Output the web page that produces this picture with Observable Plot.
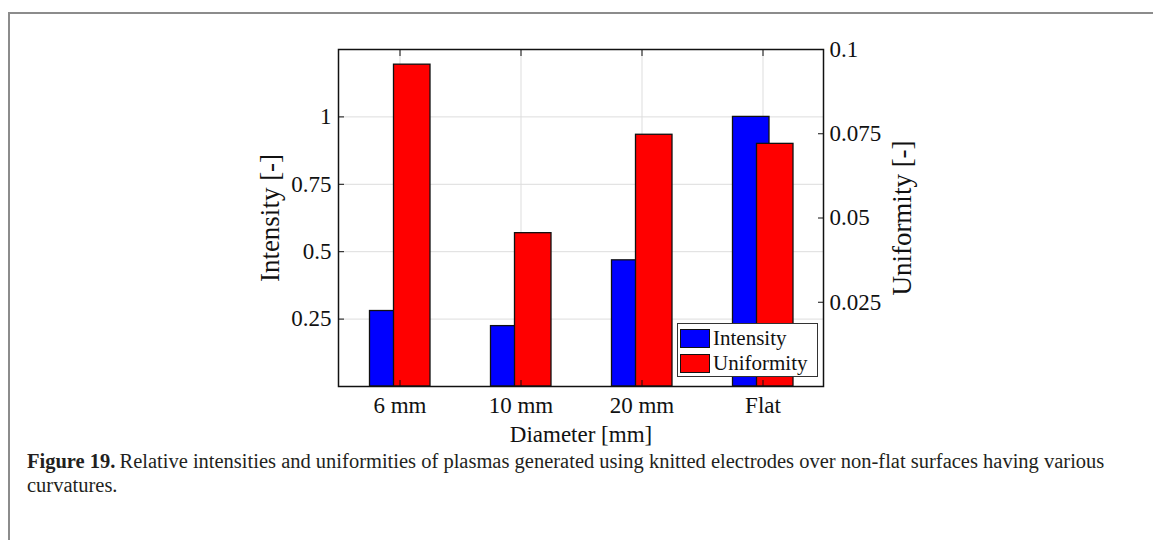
<!DOCTYPE html>
<html>
<head>
<meta charset="utf-8">
<script src="https://cdn.jsdelivr.net/npm/d3@7"></script>
<script src="https://cdn.jsdelivr.net/npm/@observablehq/plot@0.6"></script>
<style>
  body { margin: 0; background: #fff; width: 1153px; height: 540px; overflow: hidden; position: relative; font-family: "Liberation Serif", serif; }
  #frame { position: absolute; left: 8px; top: 12px; width: 1160px; height: 540px; border-top: 2px solid #8c8c8c; border-left: 2px solid #8c8c8c; }
  #chart { position: absolute; left: 0; top: 0; }
  #legend { position: absolute; left: 677px; top: 323px; width: 139px; height: 52px; background: #fff; border: 1.3px solid #333; font-size: 21px; color: #111; }
  #legend .row { position: absolute; left: 2px; height: 20px; display: flex; align-items: center; }
  #legend .sw { width: 28px; height: 17px; border: 1.3px solid #111; margin-right: 3px; }
  #caption { position: absolute; left: 27px; top: 449px; font-size: 20.5px; line-height: 24px; color: #231f20; white-space: nowrap; }
  #caption b { margin-right: 4px; }
</style>
</head>
<body>
<div id="frame"></div>
<div id="chart"></div>
<div id="legend"></div>
<div id="caption">
  <div><b>Figure 19.</b><span>Relative intensities and uniformities of plasmas generated using knitted electrodes over non-flat surfaces having various</span></div>
  <div>curvatures.</div>
</div>
<script>
// Electrode curvature categories and the two measured quantities
const diameters = ["6 mm", "10 mm", "20 mm", "Flat"];
const intensity = [0.28, 0.224, 0.468, 1.0];
const uniformity = [0.0955, 0.0455, 0.0747, 0.072];

// Axis ticks (left: intensity, right: uniformity)
const intensityTicks = [0.25, 0.5, 0.75, 1];
const uniformityTicks = [0.025, 0.05, 0.075, 0.1];
const intensityMax = 1.25;
const uniformityMax = 0.1;

const seriesNames = ["Intensity", "Uniformity"];
const seriesColors = ["#0000ff", "#ff0000"];

// uniformity is drawn on the shared y scale, rescaled to the right axis range
const k = intensityMax / uniformityMax;
const rows = diameters.map((d, i) => ({diameter: d, intensity: intensity[i], uniformity: uniformity[i]}));

const tickFont = 23;
const yLabelFont = 27;
const xLabelFont = 23;

const chart = Plot.plot({
  width: 1153,
  height: 450,
  marginLeft: 338,
  marginRight: 330,
  marginTop: 49,
  marginBottom: 64,
  x: {type: "band", domain: diameters, padding: 0},
  y: {domain: [0, intensityMax]},
  style: {fontFamily: "Liberation Serif, serif", fontSize: tickFont + "px", color: "#111", background: "transparent"},
  marks: [
    Plot.gridX(diameters, {stroke: "#dddddd", strokeOpacity: 1}),
    Plot.gridY(intensityTicks, {stroke: "#dddddd", strokeOpacity: 1}),
    Plot.barY(rows, {x: "diameter", y: "intensity", fill: seriesColors[0], stroke: "#111", strokeWidth: 1.3, insetLeft: 30.5, insetRight: 54}),
    Plot.barY(rows, {x: "diameter", y: d => d.uniformity * k, fill: seriesColors[1], stroke: "#111", strokeWidth: 1.3, insetLeft: 54.5, insetRight: 30}),
    // left axis: intensity
    Plot.axisY(intensityTicks, {anchor: "left", tickSize: -6, tickPadding: 13, tickFormat: d => String(d), label: null, fontSize: tickFont}),
    Plot.axisY({anchor: "left", ticks: [], tickSize: 0, label: "Intensity [-]", labelAnchor: "center", labelOffset: 79, labelArrow: "none", fontSize: yLabelFont}),
    // right axis: uniformity
    Plot.axisY(uniformityTicks.map(v => v * k), {anchor: "right", tickSize: -6, tickPadding: 12,
      tickFormat: v => String(+(v / k).toFixed(3)), label: null, fontSize: tickFont}),
    Plot.axisY({anchor: "right", ticks: [], tickSize: 0, label: "Uniformity [-]", labelAnchor: "center", labelOffset: 87, labelArrow: "none", fontSize: yLabelFont}),
    // bottom axis with categories, top axis with ticks only
    Plot.axisX({anchor: "bottom", tickSize: -6, tickPadding: 16, label: null, fontSize: tickFont}),
    Plot.axisX({anchor: "bottom", ticks: [], tickSize: 0, label: "Diameter [mm]", labelAnchor: "center", labelOffset: 55, labelArrow: "none", fontSize: xLabelFont}),
    Plot.axisX({anchor: "top", tickSize: -6, tickFormat: () => "", label: null}),
    Plot.frame({stroke: "#111", strokeWidth: 1.5})
  ]
});
document.getElementById("chart").appendChild(chart);

// Legend box in the lower-right corner of the axes
const legend = document.getElementById("legend");
seriesNames.forEach((name, i) => {
  const row = document.createElement("div");
  row.className = "row";
  row.style.top = (4 + i * 25) + "px";
  const sw = document.createElement("div");
  sw.className = "sw";
  sw.style.background = seriesColors[i];
  row.appendChild(sw);
  row.appendChild(document.createTextNode(name));
  legend.appendChild(row);
});
</script>
</body>
</html>
